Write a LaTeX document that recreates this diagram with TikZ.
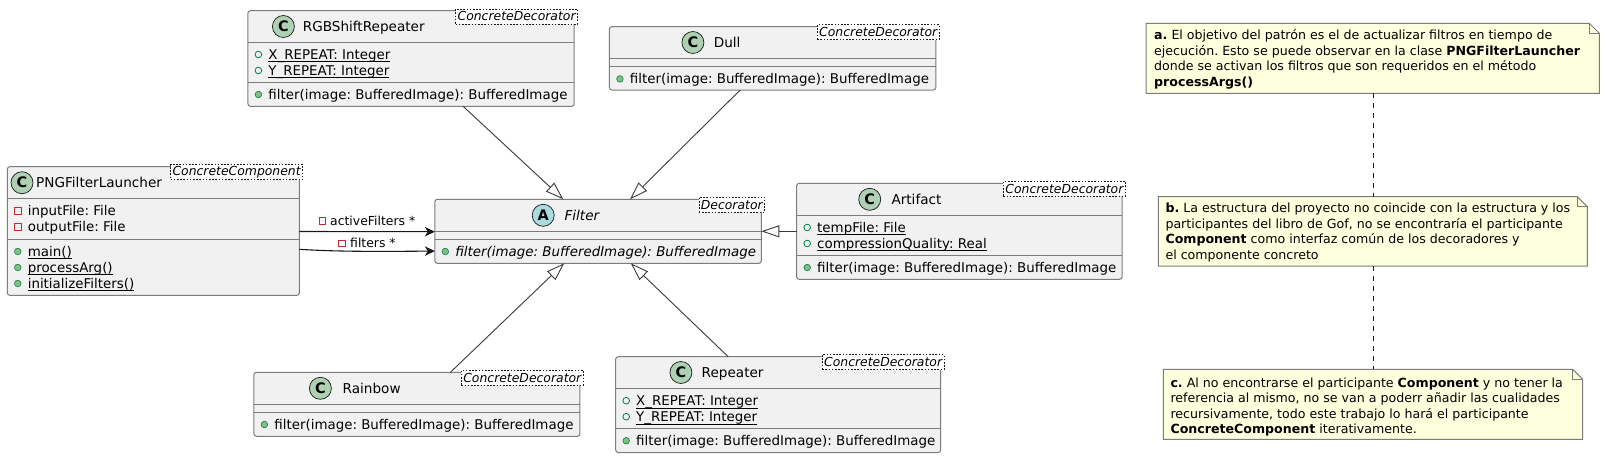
\documentclass[tikz,border=0pt]{standalone}
\usepackage{fontspec}
\setmainfont{DejaVu Sans}
\frenchspacing
\usetikzlibrary{arrows.meta,calc}
\definecolor{classfill}{HTML}{F1F1F1}
\definecolor{lineclr}{HTML}{181818}
\definecolor{bordclr}{HTML}{7C7C7C}
\definecolor{extclr}{HTML}{3A3A3A}
\definecolor{spotC}{HTML}{ADD1B2}
\definecolor{spotA}{HTML}{A9DCDF}
\definecolor{notefill}{HTML}{FEFFDD}
\definecolor{privred}{HTML}{C82930}
\definecolor{pubgreen}{HTML}{038048}
\definecolor{pubfill}{HTML}{84BE84}
\newcommand\fcls{\fontsize{13.6pt}{16pt}\selectfont}
\newcommand\fmem{\fontsize{13.4pt}{16pt}\selectfont}
\newcommand\fgen{\fontsize{12.4pt}{14pt}\selectfont}
\newcommand\flbl{\fontsize{12.4pt}{14pt}\selectfont}
\newcommand\fnote{\fontsize{12.6pt}{15.5pt}\selectfont}
\newcommand\fspot{\fontsize{14.5pt}{14.5pt}\selectfont\bfseries}
\newcommand\ulmem[1]{\setbox0=\hbox{#1}\rlap{\rule[-3pt]{\wd0}{0.8pt}}\box0}
\tikzset{
  classbox/.style={draw=bordclr, fill=classfill, line width=1pt, rounded corners=2.5pt, inner sep=0pt, outer sep=0pt},
  sepline/.style={draw=bordclr, line width=1pt},
  spot/.style={circle, draw=lineclr, line width=0.7pt, minimum size=22pt, inner sep=0pt, font=\fspot},
  gen/.style={draw=lineclr, dash pattern=on 1.6pt off 1.6pt, line width=0.6pt, fill=white, font=\fgen\itshape, inner xsep=2pt, inner ysep=0pt, minimum height=15pt, anchor=north east},
  cname/.style={anchor=base west, inner sep=0pt, font=\fcls},
  mem/.style={anchor=base west, inner sep=0pt, font=\fmem},
  lbl/.style={anchor=base west, inner sep=0pt, font=\flbl},
  ntext/.style={anchor=base west, inner sep=0pt, font=\fnote},
  pubm/.style={circle, fill=pubfill, draw=pubgreen, line width=0.6pt, minimum size=6.6pt, inner sep=0pt},
  pubf/.style={circle, fill=none, draw=pubgreen, line width=0.8pt, minimum size=6.6pt, inner sep=0pt},
  priv/.style={rectangle, fill=none, draw=privred, line width=0.8pt, minimum size=6.5pt, inner sep=0pt},
  ext/.style={draw=extclr, line width=0.9pt, -{Triangle[open, length=18pt, width=12pt]}},
  assoc/.style={draw=lineclr, line width=1.1pt, -{Stealth[length=10pt, width=9.5pt, inset=3pt]}},
  noteanchor/.style={draw=none, fill=none, inner sep=0pt, outer sep=0pt},
  noteshape/.style={draw=bordclr, fill=notefill, line width=1pt},
  notelink/.style={draw=lineclr, line width=0.9pt, dash pattern=on 5pt off 5pt}
}
\begin{document}
\begin{tikzpicture}[x=1pt, y=-1pt]
\useasboundingbox (0,0) rectangle (1605,459);
\fill[white] (0,0) rectangle (1605,459);

% ---------------- RGBShiftRepeater
\node[classbox, minimum width=326.3pt, minimum height=95.6pt] (rgb) at (411.05,58.5) {};
\draw[sepline] (247.9,42.3) -- (574.2,42.3);
\draw[sepline] (247.9,82.3) -- (574.2,82.3);
\node[spot, fill=spotC] (rgbS) at (283.4,26.5) {C};
\node[cname] (rgbN) at (302.6,31.5) {RGBShiftRepeater};
\node[gen] (rgbG) at (577.9,8.6) {ConcreteDecorator};
\node[pubf] (rgbI1) at (258.4,54.5) {};
\node[mem] (rgbA1) at (268.2,59.2) {\ulmem{X\_REPEAT: Integer}};
\node[pubf] (rgbI2) at (258.4,70.5) {};
\node[mem] (rgbA2) at (268.2,75.2) {\ulmem{Y\_REPEAT: Integer}};
\node[pubm] (rgbI3) at (258.4,94.5) {};
\node[mem] (rgbM1) at (268.2,99.2) {filter(image: BufferedImage): BufferedImage};

% ---------------- Dull
\node[classbox, minimum width=326.4pt, minimum height=63.3pt] (dull) at (772.6,58.35) {};
\draw[sepline] (609.4,58.3) -- (935.8,58.3);
\draw[sepline] (609.4,66.7) -- (935.8,66.7);
\node[spot, fill=spotC] (dullS) at (692.9,42.5) {C};
\node[cname] (dullN) at (713.6,47.5) {Dull};
\node[gen] (dullG) at (939.5,24.4) {ConcreteDecorator};
\node[pubm] (dullI1) at (619.9,78.9) {};
\node[mem] (dullM1) at (629.7,83.6) {filter(image: BufferedImage): BufferedImage};

% ---------------- PNGFilterLauncher
\node[classbox, minimum width=292pt, minimum height=128.6pt] (png) at (153.3,231) {};
\draw[sepline] (7.3,198.7) -- (299.3,198.7);
\draw[sepline] (7.3,239.3) -- (299.3,239.3);
\node[spot, fill=spotC] (pngS) at (22,182.7) {C};
\node[cname] (pngN) at (36,187.7) {PNGFilterLauncher};
\node[gen] (pngG) at (303,164.4) {ConcreteComponent};
\node[priv] (pngI1) at (17.8,210.9) {};
\node[mem] (pngA1) at (27.6,215.6) {inputFile: File};
\node[priv] (pngI2) at (17.8,226.9) {};
\node[mem] (pngA2) at (27.6,231.6) {outputFile: File};
\node[pubm] (pngI3) at (17.8,251.5) {};
\node[mem] (pngM1) at (27.6,256.2) {\ulmem{main()}};
\node[pubm] (pngI4) at (17.8,267.5) {};
\node[mem] (pngM2) at (27.6,272.2) {\ulmem{processArg()}};
\node[pubm] (pngI5) at (17.8,283.5) {};
\node[mem] (pngM3) at (27.6,288.2) {\ulmem{initializeFilters()}};

% ---------------- Filter
\node[classbox, minimum width=326.5pt, minimum height=64pt] (filter) at (598.05,231.3) {};
\draw[sepline] (434.8,231.5) -- (761.3,231.5);
\draw[sepline] (434.8,239.5) -- (761.3,239.5);
\node[spot, fill=spotA] (filterS) at (543.2,215.3) {A};
\node[cname, font=\fcls\itshape] (filterN) at (564.4,220.3) {Filter};
\node[gen] (filterG) at (765,197) {Decorator};
\node[pubm] (filterI1) at (445.3,251.5) {};
\node[mem, font=\fmem\itshape] (filterM1) at (455.1,256.2) {filter(image: BufferedImage): BufferedImage};

% ---------------- Artifact
\node[classbox, minimum width=325.3pt, minimum height=96pt] (artifact) at (959.35,231.3) {};
\draw[sepline] (796.7,215.3) -- (1122,215.3);
\draw[sepline] (796.7,255.3) -- (1122,255.3);
\node[spot, fill=spotC] (artS) at (869.7,199.3) {C};
\node[cname] (artN) at (891.3,204.3) {Artifact};
\node[gen] (artG) at (1125.7,181) {ConcreteDecorator};
\node[pubf] (artI1) at (807.2,227.5) {};
\node[mem] (artA1) at (817,232.2) {\ulmem{tempFile: File}};
\node[pubf] (artI2) at (807.2,243.5) {};
\node[mem] (artA2) at (817,248.2) {\ulmem{compressionQuality: Real}};
\node[pubm] (artI3) at (807.2,267.5) {};
\node[mem] (artM1) at (817,272.2) {filter(image: BufferedImage): BufferedImage};

% ---------------- Rainbow
\node[classbox, minimum width=326pt, minimum height=64pt] (rainbow) at (416.9,404.3) {};
\draw[sepline] (253.9,404.3) -- (579.9,404.3);
\draw[sepline] (253.9,412.3) -- (579.9,412.3);
\node[spot, fill=spotC] (rainS) at (320.4,388.3) {C};
\node[cname] (rainN) at (342.5,393.3) {Rainbow};
\node[gen] (rainG) at (583.6,370) {ConcreteDecorator};
\node[pubm] (rainI1) at (264.4,424.5) {};
\node[mem] (rainM1) at (274.2,429.2) {filter(image: BufferedImage): BufferedImage};

% ---------------- Repeater
\node[classbox, minimum width=325pt, minimum height=95.8pt] (repeater) at (778.2,404.6) {};
\draw[sepline] (615.7,388.5) -- (940.7,388.5);
\draw[sepline] (615.7,428.5) -- (940.7,428.5);
\node[spot, fill=spotC] (repS) at (680.9,372.5) {C};
\node[cname] (repN) at (701.5,377.5) {Repeater};
\node[gen] (repG) at (944.4,354.4) {ConcreteDecorator};
\node[pubf] (repI1) at (626.2,400.7) {};
\node[mem] (repA1) at (636,405.4) {\ulmem{X\_REPEAT: Integer}};
\node[pubf] (repI2) at (626.2,416.7) {};
\node[mem] (repA2) at (636,421.4) {\ulmem{Y\_REPEAT: Integer}};
\node[pubm] (repI3) at (626.2,440.7) {};
\node[mem] (repM1) at (636,445.4) {filter(image: BufferedImage): BufferedImage};

% ---------------- connectors (inheritance)
\draw[ext] ([xshift=215.2pt]rgb.south west) -- ([xshift=128.5pt]filter.north west);
\draw[ext] ([xshift=130.8pt]dull.south west) -- ([xshift=195.2pt]filter.north west);
\draw[ext] ([xshift=196.5pt]rainbow.north west) -- ([xshift=129.4pt]filter.south west);
\draw[ext] ([xshift=112.5pt]repeater.north west) -- ([xshift=196pt]filter.south west);
\draw[ext] (artifact.west) -- (filter.east);

% ---------------- associations
\draw[assoc] ([yshift=-0.5pt]png.east) -- ([yshift=-0.4pt]filter.west);
\draw[assoc] ([yshift=-18.3pt]png.east) .. controls +(40pt,-2.6pt) and +(-45pt,-0.5pt) .. ([yshift=-19.7pt]filter.west);
\node[priv] (lblI1) at (322.3,220.7) {};
\node[lbl] (lbl1) at (330,225.2) {activeFilters *};
\node[priv] (lblI2) at (341.7,243.3) {};
\node[lbl] (lbl2) at (350,247.8) {filters *};

% ---------------- notes
\node[noteanchor, minimum width=453.3pt, minimum height=70pt] (na) at (1372.65,58.3) {};
\node[noteanchor, minimum width=429pt, minimum height=69.3pt] (nb) at (1372.8,231.35) {};
\node[noteanchor, minimum width=419.4pt, minimum height=70pt] (nc) at (1373,404.3) {};
\foreach \n in {na,nb,nc}{
  \draw[noteshape] (\n.north west) -- ([xshift=-10pt]\n.north east) -- ([yshift=-10pt]\n.north east) -- (\n.south east) -- (\n.south west) -- cycle;
  \draw[noteshape, fill=none] ([xshift=-10pt]\n.north east) -- ([xshift=-10pt,yshift=-10pt]\n.north east) -- ([yshift=-10pt]\n.north east);
}
\draw[notelink] ([xshift=227.3pt]na.south west) -- ([xshift=215pt]nb.north west);
\draw[notelink] ([xshift=215pt]nb.south west) -- ([xshift=210pt]nc.north west);

\node[ntext] (na1) at (1154,39.5) {\textbf{a.} El objetivo del patrón es el de actualizar filtros en tiempo de};
\node[ntext] (na2) at (1154,55) {ejecución. Esto se puede observar en la clase \textbf{PNGFilterLauncher}};
\node[ntext] (na3) at (1154,70.5) {donde se activan los filtros que son requeridos en el método};
\node[ntext] (na4) at (1154,86) {\textbf{processArgs()}};

\node[ntext] (nb1) at (1165.3,212.8) {\textbf{b.} La estructura del proyecto no coincide con la estructura y los};
\node[ntext] (nb2) at (1165.3,228.3) {participantes del libro de Gof, no se encontraría el participante};
\node[ntext] (nb3) at (1165.3,243.8) {\textbf{Component} como interfaz común de los decoradores y};
\node[ntext] (nb4) at (1165.3,259.3) {el componente concreto};

\node[ntext] (nc1) at (1170.3,387.2) {\textbf{c.} Al no encontrarse el participante \textbf{Component} y no tener la};
\node[ntext] (nc2) at (1170.3,402.7) {referencia al mismo, no se van a poderr añadir las cualidades};
\node[ntext] (nc3) at (1170.3,418.2) {recursivamente, todo este trabajo lo hará el participante};
\node[ntext] (nc4) at (1170.3,433.7) {\textbf{ConcreteComponent} iterativamente.};
\end{tikzpicture}
\end{document}
